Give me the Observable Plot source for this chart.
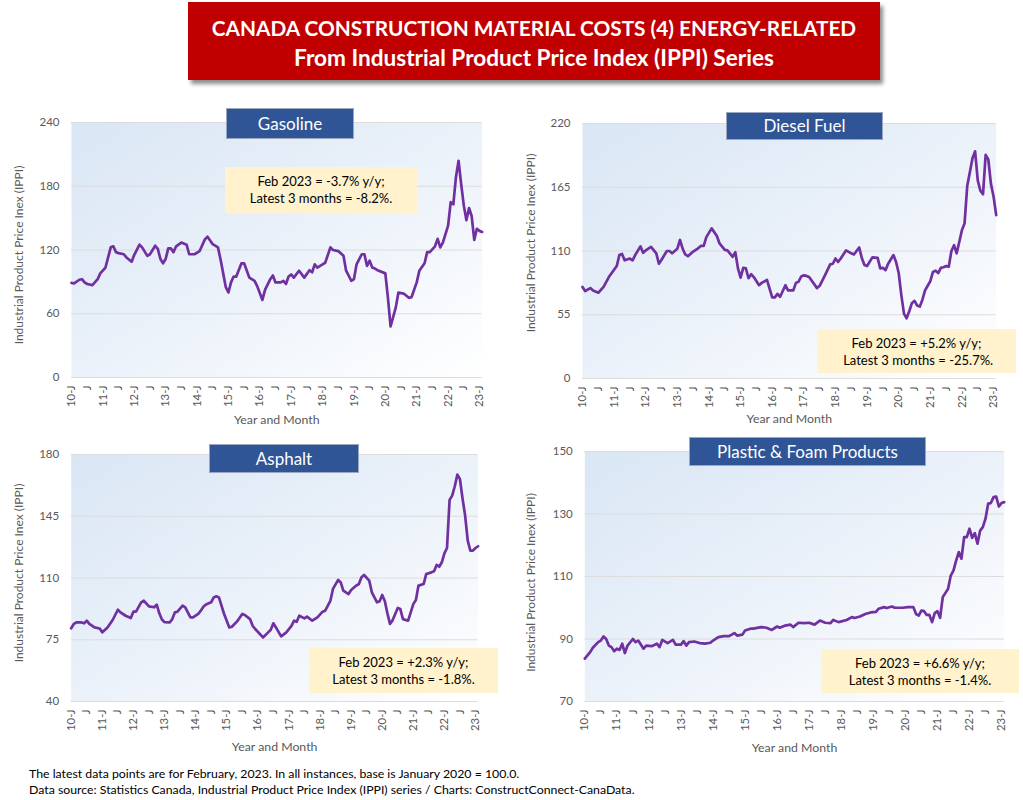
<!DOCTYPE html>
<html>
<head>
<meta charset="utf-8">
<script src="https://cdn.jsdelivr.net/npm/d3@7"></script>
<script src="https://cdn.jsdelivr.net/npm/@observablehq/plot@0.6"></script>
<style>
  html, body { margin: 0; padding: 0; background: #ffffff; }
  #page { position: relative; width: 1023px; height: 800px; overflow: hidden; font-family: Lato, "Open Sans", sans-serif; }
  .abs { position: absolute; }
  #mainTitle { left: 188px; top: 2px; width: 692px; height: 78px; background: #C00000; box-shadow: 3px 4px 4px rgba(0,0,0,0.45);
    color: #fff; font-weight: bold; text-align: center; line-height: 28px; padding-top: 12px; box-sizing: border-box; }
  #mainTitle .l1 { font-size: 20.8px; }
  #mainTitle .l2 { font-size: 22.6px; }
  .panelTitle { background: #2F5597; border: 1px solid #9aa8bf; color: #fff; font-size: 17px; text-align: center; box-sizing: border-box; }
  .note { background: #FFF2CC; color: #000; font-size: 13px; text-align: center; line-height: 17px; box-sizing: border-box; padding-top: 6px; }
  #footer { left: 29px; top: 766px; font-size: 12.3px; line-height: 16px; color: #000; white-space: nowrap; }
</style>
</head>
<body>
<div id="page"></div>
<script>
// ---------- DATA ----------
const xTickLabels = ["10-J","J","11-J","J","12-J","J","13-J","J","14-J","J","15-J","J","16-J","J","17-J","J","18-J","J","19-J","J","20-J","J","21-J","J","22-J","J","23-J"];

const gasolineTicks = [0, 60, 120, 180, 240];
const dieselTicks = [0, 55, 110, 165, 220];
const asphaltTicks = [40, 75, 110, 145, 180];
const plasticTicks = [70, 90, 110, 130, 150];

const gasoline = [["2010-01",89],["2010-02",88.5],["2010-04",92],["2010-05",92.5],["2010-06",89.5],["2010-07",88],["2010-09",87],["2010-11",92.5],["2010-12",98],
["2011-02",103.5],["2011-03",113],["2011-04",122.5],["2011-05",123.5],["2011-06",118],["2011-07",117],["2011-09",116],["2011-10",113],["2011-12",109],
["2012-01",115.5],["2012-03",125],["2012-04",122.5],["2012-06",114.5],["2012-07",116],["2012-09",124],["2012-10",121],["2012-11",111.5],["2012-12",107.5],
["2013-01",111.5],["2013-02",121.5],["2013-03",121.5],["2013-04",118],["2013-05",123.5],["2013-07",127],["2013-09",125],["2013-10",116],["2013-12",116],
["2014-02",119],["2014-04",130],["2014-05",132.5],["2014-07",125.5],["2014-09",122.5],["2014-10",111],["2014-11",98],["2014-12",85],
["2015-01",80],["2015-02",89.5],["2015-03",95],["2015-04",95],["2015-06",107.5],["2015-07",107.5],["2015-09",94],["2015-11",91],["2015-12",86],
["2016-02",73],["2016-03",82.5],["2016-05",92.5],["2016-06",96],["2016-07",89.5],["2016-09",89.5],["2016-10",91],["2016-11",88],["2016-12",95],
["2017-01",97],["2017-02",94],["2017-04",100.5],["2017-06",94],["2017-08",101],["2017-09",99],["2017-10",106.5],["2017-11",103.5],
["2018-01",106.5],["2018-02",108],["2018-04",122.5],["2018-05",120],["2018-07",119],["2018-09",114.5],["2018-10",100.5],["2018-12",91],
["2019-01",92.5],["2019-02",106.5],["2019-04",116],["2019-05",116],["2019-06",105],["2019-07",110],["2019-08",103.5],["2019-09",102.5],["2019-10",101],
["2020-01",98],["2020-02",75],["2020-03",48],["2020-05",66],["2020-06",80],["2020-08",79],["2020-10",75],["2020-11",75.5],
["2021-01",89.5],["2021-02",100.5],["2021-04",107.5],["2021-05",118],["2021-06",118],["2021-08",123.5],["2021-09",130.5],["2021-10",122.5],["2021-11",127],
["2022-01",143],["2022-02",165],["2022-03",163],["2022-04",188.5],["2022-05",204],["2022-06",182],["2022-07",162],["2022-08",148],["2022-09",159.5],["2022-10",152],["2022-11",129.5],["2022-12",140],
["2023-01",138],["2023-02",137]];

const diesel = [["2010-01",79],["2010-02",75.5],["2010-04",78],["2010-05",76],["2010-07",74],["2010-09",79],["2010-11",87.5],
["2011-02",97],["2011-03",106.5],["2011-04",107.5],["2011-05",102],["2011-07",103.5],["2011-08",102],["2011-09",106.5],["2011-11",114],["2011-12",108.5],
["2012-01",110.5],["2012-03",113.5],["2012-05",108],["2012-06",99],["2012-07",102.5],["2012-09",110],["2012-10",110],["2012-11",108],
["2013-01",112],["2013-02",119.5],["2013-03",112],["2013-04",107],["2013-05",105.5],["2013-07",109.5],["2013-09",112.5],["2013-10",114.5],["2013-11",114.5],["2013-12",122],
["2014-02",129.5],["2014-04",123],["2014-05",116.5],["2014-07",111],["2014-08",110.5],["2014-10",105],["2014-11",109],["2014-12",95],
["2015-01",87],["2015-02",95.5],["2015-03",95],["2015-04",86.5],["2015-05",90],["2015-06",87.5],["2015-08",80.5],["2015-09",82.5],["2015-11",85],
["2016-01",70],["2016-02",70],["2016-03",73],["2016-04",70.5],["2016-06",80.5],["2016-07",76],["2016-09",76],["2016-10",82.5],["2016-11",83.5],["2016-12",88],
["2017-01",89],["2017-02",88.5],["2017-03",87.5],["2017-06",78],["2017-07",80],["2017-09",89],["2017-11",98.5],["2017-12",99],
["2018-01",103.5],["2018-02",100.5],["2018-03",103.5],["2018-05",110.5],["2018-07",108],["2018-08",107],["2018-10",113],["2018-11",104],["2018-12",98],
["2019-01",97],["2019-03",104.5],["2019-05",104],["2019-06",95],["2019-07",95.5],["2019-08",93.5],["2019-09",99],["2019-11",106.5],["2019-12",100.5],
["2020-01",91],["2020-02",72],["2020-03",56],["2020-04",52],["2020-05",58],["2020-06",65],["2020-07",67],["2020-08",63],["2020-09",62],["2020-10",68],["2020-11",76],["2020-12",80],
["2021-01",84],["2021-02",92],["2021-03",93],["2021-04",91],["2021-05",95.5],["2021-06",96],["2021-07",97],["2021-08",96.5],["2021-09",110],["2021-10",115],["2021-11",108],["2021-12",118],
["2022-01",128],["2022-02",134],["2022-03",166],["2022-04",178],["2022-05",190],["2022-06",196],["2022-07",171],["2022-08",162],["2022-09",159],["2022-10",193],["2022-11",189],["2022-12",168],
["2023-01",157],["2023-02",141]];

const asphalt = [["2010-01",81.5],["2010-02",84],["2010-03",84.8],["2010-05",84.8],["2010-06",84.3],["2010-07",85.8],["2010-08",84],["2010-10",82],["2010-12",81.4],
["2011-01",79.2],["2011-03",82],["2011-05",86.2],["2011-07",92],["2011-08",90.5],["2011-10",88.6],["2011-12",87.3],
["2012-01",90.9],["2012-02",90.9],["2012-04",96.2],["2012-05",97.1],["2012-07",93.9],["2012-09",93.4],["2012-10",94.9],["2012-11",90],["2012-12",86.5],
["2013-01",85],["2013-03",84.8],["2013-04",86.7],["2013-05",90.5],["2013-06",90.9],["2013-08",94.3],["2013-09",93.4],["2013-11",87.7],["2013-12",87.7],
["2014-02",89.6],["2014-03",91.5],["2014-04",93.7],["2014-05",95],["2014-07",96.2],["2014-08",99],["2014-09",99.6],["2014-10",99],["2014-12",89.6],
["2015-02",82],["2015-03",82.4],["2015-05",85.4],["2015-07",89.6],["2015-08",89],["2015-10",86.7],["2015-11",82.9],["2015-12",81.1],
["2016-03",76.3],["2016-05",79.2],["2016-06",80.7],["2016-07",84.3],["2016-08",82],["2016-10",76.9],["2016-12",79.2],
["2017-02",82.9],["2017-03",85.8],["2017-04",85.2],["2017-05",88.6],["2017-07",87.1],["2017-08",88.1],["2017-10",85.8],["2017-12",87.7],
["2018-02",90.9],["2018-03",91.5],["2018-05",97.1],["2018-06",103.8],["2018-08",108.9],["2018-09",107.5],["2018-10",102.8],["2018-12",100.9],
["2019-01",103.2],["2019-03",105.7],["2019-04",106.6],["2019-05",110.4],["2019-06",111.7],["2019-08",108.5],["2019-09",101.9],["2019-11",96.2],["2019-12",96.8],
["2020-01",100.4],["2020-02",97],["2020-03",90],["2020-04",84],["2020-05",86],["2020-07",93],["2020-08",92.4],["2020-09",86.7],["2020-11",85.8],
["2021-01",95.2],["2021-02",97.5],["2021-03",105.7],["2021-05",106.6],["2021-06",112.3],["2021-08",113.2],["2021-09",113.8],["2021-10",117.4],["2021-11",116.4],["2021-12",118.9],
["2022-01",124],["2022-02",127],["2022-03",154.3],["2022-04",156.7],["2022-05",162],["2022-06",168.6],["2022-07",166],["2022-08",155],["2022-09",145.4],["2022-10",131.2],["2022-11",125.5],["2022-12",125.5],
["2023-01",127],["2023-02",128]];

const plastic = [["2010-01",83.7],["2010-03",85.8],["2010-04",87.2],["2010-06",89],["2010-07",89.5],["2010-08",90.8],["2010-09",90],["2010-10",87.9],["2010-11",87.4],["2010-12",86.1],
["2011-01",86.9],["2011-02",86.5],["2011-03",88.5],["2011-04",85.5],["2011-05",87.9],["2011-07",90],["2011-08",89],["2011-09",89.5],["2011-11",86.9],["2011-12",87.9],
["2012-02",87.7],["2012-04",88.5],["2012-05",87.4],["2012-06",89.7],["2012-08",88.7],["2012-10",89.7],["2012-11",88.2],
["2013-01",88.2],["2013-02",89.3],["2013-03",87.9],["2013-04",89],["2013-06",89.2],["2013-08",88.7],["2013-10",88.5],["2013-12",88.8],
["2014-01",89.5],["2014-03",90.6],["2014-05",90.9],["2014-07",90.9],["2014-09",91.9],["2014-10",91.1],["2014-12",91.4],
["2015-01",92.7],["2015-03",93.3],["2015-04",93.3],["2015-07",93.8],["2015-09",93.6],["2015-11",92.9],
["2016-01",94],["2016-02",93.6],["2016-04",94.3],["2016-06",94.6],["2016-07",93.8],["2016-09",95.2],["2016-11",95.1],
["2017-01",95.2],["2017-03",94.6],["2017-05",95.9],["2017-07",95.2],["2017-09",95.1],["2017-10",96.1],["2017-12",95.4],
["2018-03",96.1],["2018-05",97],["2018-06",96.7],["2018-08",97.2],["2018-10",98],["2018-12",98.5],
["2019-02",98.7],["2019-03",99.7],["2019-05",100.2],["2019-06",99.9],["2019-08",100.4],["2019-09",100],["2019-12",100],
["2020-02",100.2],["2020-04",100.2],["2020-05",98],["2020-06",97.5],["2020-07",99.1],["2020-08",98.9],["2020-09",97.7],["2020-10",97.7],["2020-11",95.4],["2020-12",98.3],
["2021-01",98.9],["2021-02",96.8],["2021-03",103.4],["2021-05",106.1],["2021-06",110.3],["2021-07",111.9],["2021-08",115.1],["2021-09",117.8],["2021-10",115.7],["2021-11",122.6],["2021-12",122.6],
["2022-01",125.3],["2022-02",122.4],["2022-03",123.9],["2022-04",120.5],["2022-05",124.7],["2022-06",125.8],["2022-07",128.5],["2022-08",133.3],["2022-09",133.5],["2022-10",135.4],["2022-11",135.6],["2022-12",132.4],
["2023-01",133.5],["2023-02",133.8]];

// ---------- LAYOUT ----------
const page = document.getElementById("page");
const monthIndex = s => { const [y, m] = s.split("-").map(Number); return (y - 2010) * 12 + (m - 1); };
const xTickPos = xTickLabels.map((_, i) => i * 6);

function addDiv(cls, style, html) {
  const d = document.createElement("div");
  d.className = "abs " + cls;
  Object.assign(d.style, style);
  d.innerHTML = html;
  page.appendChild(d);
  return d;
}

const mt = addDiv("", {}, '<span class="l1">CANADA CONSTRUCTION MATERIAL COSTS (4) ENERGY-RELATED</span><br><span class="l2">From Industrial Product Price Index (IPPI) Series</span>');
mt.id = "mainTitle";

const panels = [
  {id: "g", series: gasoline, ticks: gasolineTicks, left: 0, top: 100, width: 512, height: 330,
   ml: 71, mr: 30.4, mt: 22, mb: 53, ytDy: 5, xtDy: 43,
   title: "Gasoline", tbox: [226, 108, 128, 31],
   note: ["Feb 2023 = -3.7% y/y;", "Latest 3 months = -8.2%."], nbox: [225, 167, 192, 46]},
  {id: "d", series: diesel, ticks: dieselTicks, left: 512, top: 100, width: 511, height: 330,
   ml: 70, mr: 27.3, mt: 23, mb: 52, ytDy: -8, xtDy: 41,
   title: "Diesel Fuel", tbox: [726, 112, 157, 28],
   note: ["Feb 2023 = +5.2% y/y;", "&nbsp;Latest 3 months = -25.7%."], nbox: [817, 329, 199, 44]},
  {id: "a", series: asphalt, ticks: asphaltTicks, left: 0, top: 430, width: 512, height: 330,
   ml: 70.7, mr: 34.4, mt: 24, mb: 59, ytDy: -5, xtDy: 46,
   title: "Asphalt", tbox: [209, 444, 150, 29],
   note: ["Feb 2023 = +2.3% y/y;", "Latest 3 months = -1.8%."], nbox: [309, 648, 189, 45]},
  {id: "p", series: plastic, ticks: plasticTicks, left: 512, top: 430, width: 511, height: 330,
   ml: 72.3, mr: 19.3, mt: 21, mb: 59, ytDy: 6, xtDy: 47,
   title: "Plastic &amp; Foam Products", tbox: [689, 437, 237, 29],
   note: ["Feb 2023 = +6.6% y/y;", "Latest 3 months = -1.4%."], nbox: [821, 649, 198, 44]}
];

const NS = "http://www.w3.org/2000/svg";

for (const p of panels) {
  const data = p.series.map(([d, v]) => ({m: monthIndex(d), v}));
  const gid = "bg-" + p.id;
  const chart = Plot.plot({
    width: p.width, height: p.height,
    marginLeft: p.ml, marginRight: p.mr, marginTop: p.mt, marginBottom: p.mb,
    style: {fontFamily: "Lato, 'Open Sans', sans-serif", background: "transparent", overflow: "visible"},
    x: {domain: [0, 157], axis: null},
    y: {domain: [p.ticks[0], p.ticks[p.ticks.length - 1]], axis: null},
    marks: [
      Plot.frame({fill: `url(#${gid})`, stroke: "none"}),
      Plot.gridY(p.ticks, {stroke: "#dcdcdc", strokeOpacity: 1, strokeWidth: 1.2}),
      Plot.axisY(p.ticks, {tickSize: 0, tickPadding: 12, fontSize: 11.5, fill: "#595959", label: null}),
      Plot.axisX(xTickPos, {tickSize: 0, tickPadding: 8, tickRotate: -90, fontSize: 11.3, fill: "#595959", label: null,
        tickFormat: d => xTickLabels[Math.round(d / 6)]}),
      Plot.line(data, {x: "m", y: "v", stroke: "#7030A0", strokeWidth: 2.7, strokeLinejoin: "round"}),
      Plot.text(["Industrial Product Price Inex (IPPI)"], {frameAnchor: "left", textAnchor: "middle", lineAnchor: "middle",
        dx: -(p.ml - 19), dy: p.ytDy, rotate: -90, fontSize: 12, fill: "#595959"}),
      Plot.text(["Year and Month"], {frameAnchor: "bottom", textAnchor: "middle", lineAnchor: "middle", dy: p.xtDy, fontSize: 12.3, fill: "#595959"})
    ]
  });
  // gradient background definition for the plot frame
  const defs = document.createElementNS(NS, "defs");
  const lg = document.createElementNS(NS, "linearGradient");
  lg.setAttribute("id", gid);
  lg.setAttribute("x1", "0"); lg.setAttribute("y1", "0"); lg.setAttribute("x2", "1"); lg.setAttribute("y2", "1");
  [["0%", "#d9e6f4"], ["45%", "#e9f0f9"], ["100%", "#ffffff"]].forEach(([o, c]) => {
    const s = document.createElementNS(NS, "stop");
    s.setAttribute("offset", o); s.setAttribute("stop-color", c);
    lg.appendChild(s);
  });
  defs.appendChild(lg);
  chart.insertBefore(defs, chart.firstChild);
  chart.style.position = "absolute";
  chart.style.left = p.left + "px";
  chart.style.top = p.top + "px";
  page.appendChild(chart);

  const [tx, ty, tw, th] = p.tbox;
  addDiv("panelTitle", {left: tx + "px", top: ty + "px", width: tw + "px", height: th + "px", lineHeight: (th - 2) + "px"}, p.title);
  const [nx, ny, nw, nh] = p.nbox;
  addDiv("note", {left: nx + "px", top: ny + "px", width: nw + "px", height: nh + "px"}, p.note.join("<br>"));
}

const ft = addDiv("", {}, "The latest data points are for February, 2023. In all instances, base is January 2020 = 100.0.<br>Data source: Statistics Canada, Industrial Product Price Index (IPPI) series / Charts: ConstructConnect-CanaData.");
ft.id = "footer";
</script>
</body>
</html>
